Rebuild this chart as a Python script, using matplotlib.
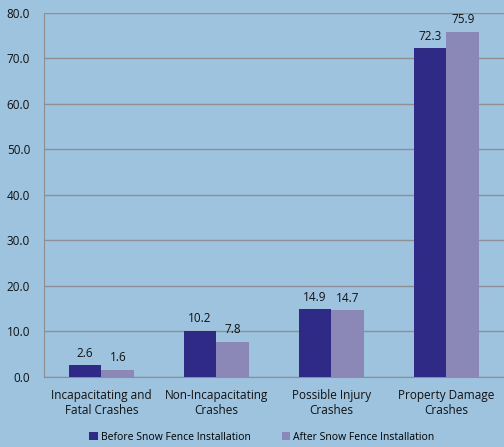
import numpy as np
import matplotlib.pyplot as plt

categories = ['Incapacitating and\nFatal Crashes', 'Non-Incapacitating\nCrashes',
              'Possible Injury\nCrashes', 'Property Damage\nCrashes']
before = [2.6, 10.2, 14.9, 72.3]
after = [1.6, 7.8, 14.7, 75.9]

plt.rcParams['font.family'] = ['Open Sans', 'DejaVu Sans']
bg = '#9dc3df'

fig = plt.figure(figsize=(5.04, 4.47), dpi=100, facecolor=bg)
ax = fig.add_axes([0.0873, 0.1566, 0.9127, 0.8144], facecolor=bg)

x = np.arange(len(categories))
w = 0.286
b1 = ax.bar(x - w / 2, before, w, color='#2e2a85', label='Before Snow Fence Installation', zorder=3)
b2 = ax.bar(x + w / 2, after, w, color='#8b88b8', label='After Snow Fence Installation', zorder=3)

for bars in (b1, b2):
    for r in bars:
        ax.text(r.get_x() + r.get_width() / 2, r.get_height() + 1.2, f'{r.get_height():.1f}',
                ha='center', va='bottom', fontsize=8.5, color='#111111')

ax.set_xlim(-0.5, 3.5)
ax.set_ylim(0, 80)
ax.set_yticks(np.arange(0, 81, 10))
ax.set_yticklabels([f'{v:.1f}' for v in np.arange(0, 81, 10)])
ax.yaxis.grid(True, color='#8f8f8f', linewidth=1, zorder=0)
ax.set_xticks(x)
ax.set_xticklabels(categories)
ax.tick_params(axis='both', length=0, labelsize=8.5, colors='#111111')
ax.tick_params(axis='x', pad=9)
ax.tick_params(axis='y', pad=10)
for s in ['top', 'right']:
    ax.spines[s].set_visible(False)
for s in ['left', 'bottom']:
    ax.spines[s].set_color('#8f8f8f')

fig.legend(loc='center', bbox_to_anchor=(0.52, 0.022), ncol=2, frameon=False,
           fontsize=7.5, handlelength=0.8, handleheight=0.8, handletextpad=0.3, columnspacing=3)

fig.savefig('out.png', dpi=100, facecolor=bg)
